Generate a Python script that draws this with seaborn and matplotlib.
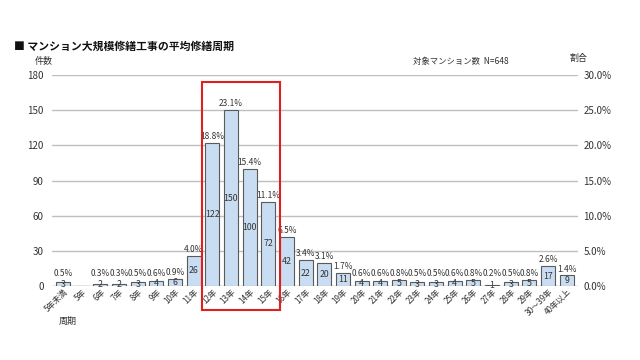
import matplotlib
matplotlib.use("Agg")
import matplotlib.pyplot as plt
from matplotlib.patches import Rectangle
from matplotlib.ticker import FuncFormatter
import seaborn as sns
import pandas as pd

# data
periods = ["5年未満", "5年", "6年", "7年", "8年", "9年", "10年", "11年", "12年", "13年",
           "14年", "15年", "16年", "17年", "18年", "19年", "20年", "21年", "22年", "23年",
           "24年", "25年", "26年", "27年", "28年", "29年", "30～39年", "40年以上"]
counts = [3, 0, 2, 2, 3, 4, 6, 26, 122, 150, 100, 72, 42, 22, 20, 11,
          4, 4, 5, 3, 3, 4, 5, 1, 3, 5, 17, 9]
total = 648
highlight = ["12年", "13年", "14年", "15年"]

df = pd.DataFrame({"period": periods, "count": counts})
df["share"] = df["count"] / total * 100

sns.set_style("white")
plt.rcParams['font.family'] = ['Noto Sans CJK JP', 'DejaVu Sans']

fig = plt.figure(figsize=(6.4, 3.6), dpi=100)
ax = fig.add_axes([0.081, 0.2056, 0.822, 0.586])

# grid
for v in range(30, 181, 30):
    ax.axhline(v, color="#bfbfbf", lw=1.0, zorder=0)
ax.axhline(0, color="#9a9a9a", lw=1.0, zorder=0)

sns.barplot(data=df, x="period", y="count", color="#c9ddf2", edgecolor="#5a5a5a",
            linewidth=0.8, width=0.75, saturation=1, ax=ax, zorder=2)

ax.set_ylim(0, 180)
ax.set_xlim(-0.6, len(periods) - 0.4)
ax.set_yticks(range(0, 181, 30))
ax.tick_params(axis="y", labelsize=7, length=0, pad=6, colors="#333333")
ax.tick_params(axis="x", labelsize=5.8, length=0, pad=1, colors="#333333")
plt.setp(ax.get_xticklabels(), rotation=45, ha="right", rotation_mode="anchor")
ax.set_xlabel("")
ax.set_ylabel("")
for s in ax.spines.values():
    s.set_visible(False)

# value labels: count inside the bar, share above it
for i, row in df.iterrows():
    if row["count"] == 0:
        continue
    ax.text(i, row["count"] / 2, str(row["count"]), ha="center", va="center",
            fontsize=6.3, color="#333333", zorder=3)
    ax.text(i, max(row["count"], 5) + 1.5, f"{row['share']:.1f}%", ha="center",
            va="bottom", fontsize=6, color="#333333", zorder=3)

# right axis for share
ax2 = ax.twinx()
ax2.set_ylim(0, 30)
ax2.set_yticks(range(0, 31, 5))
ax2.yaxis.set_major_formatter(FuncFormatter(lambda v, p: f"{v:.1f}%"))
ax2.tick_params(axis="y", labelsize=7, length=0, pad=4, colors="#333333")
for s in ax2.spines.values():
    s.set_visible(False)

# red box around the peak range
i0 = periods.index(highlight[0])
i1 = periods.index(highlight[-1])
rect = Rectangle((i0 - 0.55, -20.5), (i1 - i0) + 1.2, 194.5, fill=False,
                 edgecolor="#e02020", lw=1.5, clip_on=False, zorder=5)
ax.add_patch(rect)

fig.text(0.022, 0.872, "■ マンション大規模修繕工事の平均修繕周期", fontsize=7.8,
         fontweight="bold", va="center", color="#111111")
fig.text(0.055, 0.83, "件数", fontsize=6.5, va="center", color="#333333")
fig.text(0.89, 0.838, "割合", fontsize=6.5, va="center", color="#333333")
fig.text(0.645, 0.828, "対象マンション数  N=648", fontsize=6, va="center", color="#333333")
fig.text(0.092, 0.108, "周期", fontsize=6.5, va="center", color="#333333")

fig.savefig("out.png", dpi=100)
